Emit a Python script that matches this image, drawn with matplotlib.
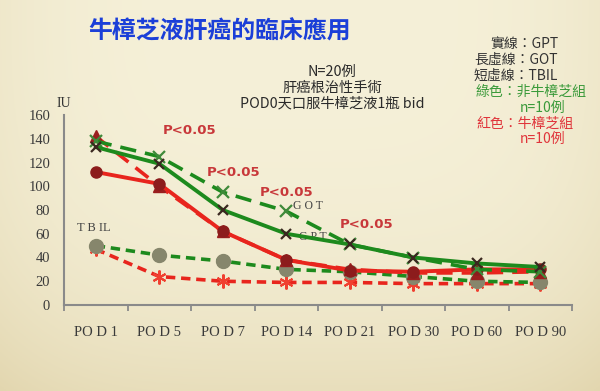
import numpy as np
import matplotlib.pyplot as plt
from matplotlib.ticker import FixedLocator

# Data
pods = ['PO D 1', 'PO D 5', 'PO D 7', 'PO D 14', 'PO D 21', 'PO D 30', 'PO D 60', 'PO D 90']
green_gpt = [133, 119, 80, 60, 51, 40, 35, 32]
green_got = [138, 125, 95, 79, 51, 40, 30, 28]
green_tbil = [50, 42, 37, 30, 28, 24, 20, 19]
red_gpt = [112, 102, 62, 38, 29, 28, 30, 30]
red_got = [142, 100, 62, 38, 30, 27, 27, 28]
red_tbil = [47, 24, 20, 19, 19, 18, 18, 18]
yticks = [0, 20, 40, 60, 80, 100, 120, 140, 160]

cjk = ['Noto Sans CJK TC', 'DejaVu Sans']
serif = 'Liberation Serif'
GREEN = '#1d8a1d'
RED = '#e8251d'

fig = plt.figure(figsize=(6, 3.91), dpi=100)

# parchment background
bg = fig.add_axes([0, 0, 1, 1], zorder=-5)
yy, xx = np.mgrid[0:1:200j, 0:1:300j]
shade = 0.55 * yy ** 3 + 0.25 * ((xx - 0.5) * 2) ** 4
c0 = np.array([245, 240, 216]) / 255
c1 = np.array([222, 208, 165]) / 255
img = c0[None, None, :] * (1 - shade[..., None]) + c1[None, None, :] * shade[..., None]
bg.imshow(img, aspect='auto', origin='upper', extent=[0, 1, 0, 1])
bg.axis('off')

ax = fig.add_axes([64 / 600, 86 / 391, 508 / 600, 190 / 391])
ax.set_facecolor('none')
x = np.arange(len(pods))

long_dash = (4.5, 2.5)
short_dash = (2.6, 1.6)

ax.plot(x, red_tbil, color=RED, lw=2.6, dashes=short_dash, marker=(6, 2, 0),
        ms=10, mec='#f04030', mew=1.5, clip_on=False, zorder=3)
ax.plot(x, green_tbil, color=GREEN, lw=2.6, dashes=short_dash, marker='o',
        ms=10, mfc='#86866c', mec='#86866c', clip_on=False, zorder=3)
ax.plot(x, red_got, color=RED, lw=2.6, dashes=long_dash, marker='^',
        ms=8, mfc='#9a1e1e', mec='#9a1e1e', clip_on=False, zorder=4)
ax.plot(x, red_gpt, color=RED, lw=2.8, marker='o',
        ms=8, mfc='#8c1c1c', mec='#8c1c1c', clip_on=False, zorder=4)
ax.plot(x, green_got, color=GREEN, lw=2.6, dashes=long_dash, marker='x',
        ms=9, mec='#3f8a3a', mew=1.6, clip_on=False, zorder=5)
ax.plot(x, green_gpt, color=GREEN, lw=2.8, marker='x',
        ms=7, mec='#3a2820', mew=1.6, clip_on=False, zorder=5)

ax.set_xlim(-0.5, len(pods) - 0.5)
ax.set_ylim(0, 160)
ax.set_xticks(x)
ax.set_xticklabels(pods, family=serif, fontsize=10.5, color='#3a3a3a')
ax.xaxis.set_minor_locator(FixedLocator(np.arange(-0.5, len(pods), 1.0)))
ax.tick_params(axis='x', which='major', length=0, pad=15)
ax.tick_params(axis='x', which='minor', length=4, width=1.3, color='#8a8a8a', direction='out')
ax.set_yticks(yticks)
ax.set_yticklabels([str(v) for v in yticks], family=serif, fontsize=10.5, color='#3a3a3a')
ax.tick_params(axis='y', length=0, pad=10)
for s in ['top', 'right']:
    ax.spines[s].set_visible(False)
for s in ['left', 'bottom']:
    ax.spines[s].set_color('#8a8a8a')
    ax.spines[s].set_linewidth(1.5)

# annotations
ax.text(-0.5, 170, 'IU', family=serif, fontsize=10, color='#333333', ha='center', va='center')
ax.text(-0.3, 65, 'T B IL', family=serif, fontsize=9, color='#444444', va='center')
ax.text(3.1, 83, 'G O T', family=serif, fontsize=8.5, color='#444444', va='center')
ax.text(3.2, 57, 'G P T', family=serif, fontsize=8.5, color='#444444', va='center')
p_color = '#c8383a'
for px, py in [(1.05, 147), (1.75, 112), (2.58, 94.5), (3.84, 68)]:
    ax.text(px, py, 'P<0.05', fontsize=9.5, fontweight='bold', color=p_color, va='center')

# titles and legend text
fig.text(88 / 600, 1 - 32 / 391, '牛樟芝液肝癌的臨床應用', family=cjk, fontsize=17.2,
         fontweight='bold', color='#1b3fd8', va='center')
for i, line in enumerate(['N=20例', '肝癌根治性手術', 'POD0天口服牛樟芝液1瓶 bid']):
    fig.text(332 / 600, 1 - (72 + 15.5 * i) / 391, line, family=cjk, fontsize=10.3,
             color='#2a2a2a', ha='center', va='center')
for i, line in enumerate(['實線：GPT', '長虛線：GOT', '短虛線：TBIL']):
    fig.text(558 / 600, 1 - (44 + 16 * i) / 391, line, family=cjk, fontsize=10,
             color='#333333', ha='right', va='center')
fig.text(476 / 600, 1 - 92 / 391, '綠色：非牛樟芝組', family=cjk, fontsize=10,
         color='#3a9a3a', va='center')
fig.text(520 / 600, 1 - 108 / 391, 'n=10例', family=cjk, fontsize=10,
         color='#3a9a3a', va='center')
fig.text(476 / 600, 1 - 124 / 391, '紅色：牛樟芝組', family=cjk, fontsize=10,
         color='#e0343a', va='center')
fig.text(520 / 600, 1 - 139 / 391, 'n=10例', family=cjk, fontsize=10,
         color='#e0343a', va='center')

fig.savefig('out.png', dpi=100)
